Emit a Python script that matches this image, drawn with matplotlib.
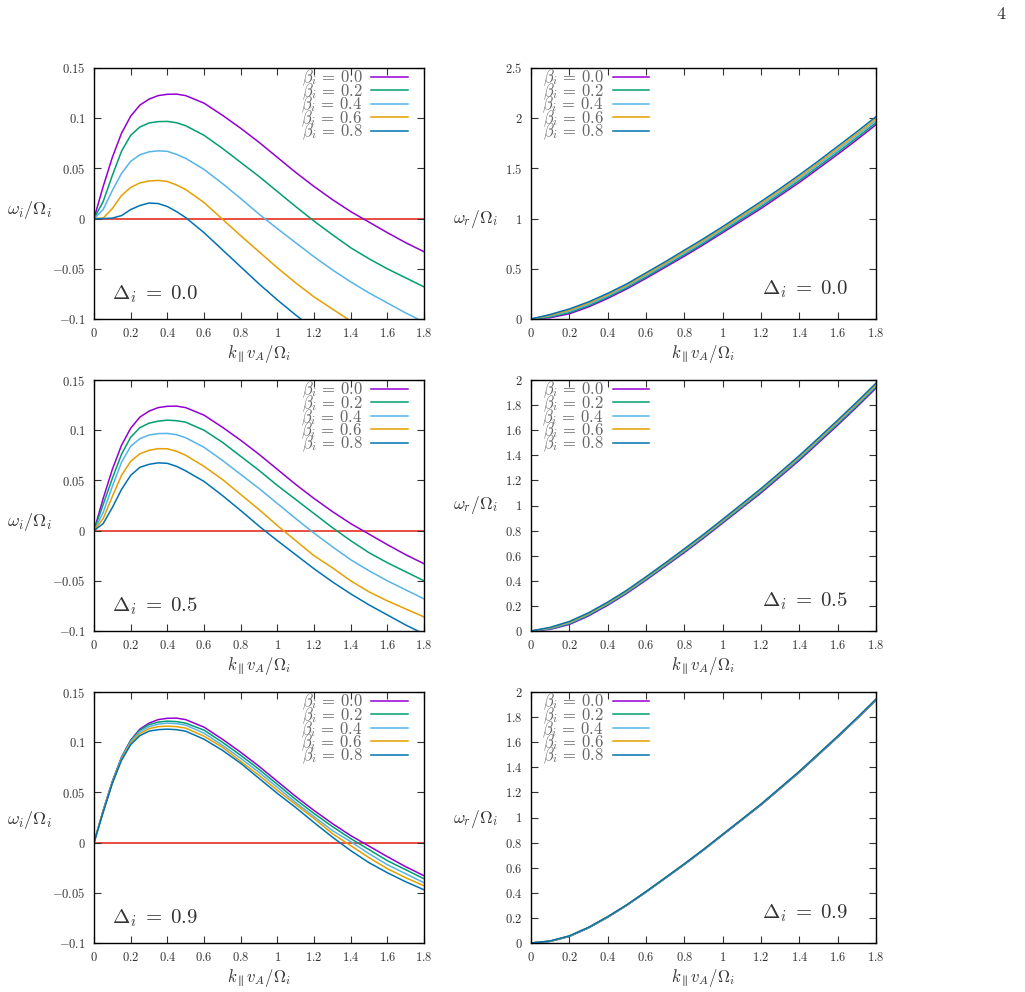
import numpy as np
import matplotlib
matplotlib.use("Agg")
import matplotlib.pyplot as plt
from matplotlib.ticker import FuncFormatter, MultipleLocator

plt.rcParams["mathtext.fontset"] = "cm"
plt.rcParams["font.family"] = "serif"

# ---- data ----------------------------------------------------------------
BETAS = ["0.0", "0.2", "0.4", "0.6", "0.8"]
COLORS = ["#9400d3", "#009e73", "#56b4e9", "#e69f00", "#0072b2"]
DELTAS = ["0.0", "0.5", "0.9"]

# growth rate, omega_i / Omega_i
xg = [0, 0.05, 0.1, 0.15, 0.2, 0.25, 0.3, 0.35, 0.4, 0.45, 0.5, 0.6, 0.7,
      0.8, 0.9, 1.0, 1.1, 1.2, 1.3, 1.4, 1.5, 1.6, 1.7, 1.8]

wi_d00_b00 = [0, 0.032, 0.061, 0.085, 0.102, 0.113, 0.119, 0.1225, 0.1238, 0.124, 0.1225,
              0.115, 0.103, 0.090, 0.076, 0.061, 0.046, 0.032, 0.019, 0.007, -0.0035,
              -0.014, -0.024, -0.033]
wi_d00_b02 = [0, 0.017, 0.043, 0.067, 0.083, 0.0912, 0.0952, 0.0966, 0.0968, 0.0955, 0.0925,
              0.083, 0.070, 0.056, 0.042, 0.027, 0.012, -0.0025, -0.016, -0.029, -0.040,
              -0.050, -0.059, -0.068]
wi_d00_b04 = [0, 0.009, 0.028, 0.045, 0.057, 0.0635, 0.0665, 0.0675, 0.067, 0.064, 0.060,
              0.049, 0.035, 0.020, 0.0045, -0.010, -0.024, -0.038, -0.051, -0.063, -0.074,
              -0.084, -0.094, -0.103]
wi_d00_b06 = [0, 0.0005, 0.010, 0.023, 0.031, 0.0355, 0.0375, 0.038, 0.037, 0.0335, 0.029,
              0.016, -0.0005, -0.017, -0.033, -0.049, -0.064, -0.078, -0.090, -0.102]
wi_d00_b08 = [0, 0.0, 0.0005, 0.003, 0.009, 0.013, 0.0155, 0.015, 0.012, 0.007, 0.001,
              -0.014, -0.031, -0.048, -0.065, -0.081, -0.096, -0.110]

wi_d05_b00 = [0, 0.032, 0.061, 0.085, 0.102, 0.113, 0.119, 0.1225, 0.1238, 0.124, 0.1225,
              0.115, 0.103, 0.090, 0.076, 0.061, 0.046, 0.032, 0.019, 0.007, -0.0035,
              -0.014, -0.024, -0.033]
wi_d05_b02 = [0, 0.026, 0.052, 0.076, 0.093, 0.1025, 0.107, 0.109, 0.110, 0.1095, 0.108,
              0.100, 0.088, 0.074, 0.060, 0.045, 0.031, 0.017, 0.003, -0.010, -0.022,
              -0.032, -0.041, -0.050]
wi_d05_b04 = [0, 0.018, 0.044, 0.068, 0.084, 0.0915, 0.0952, 0.0966, 0.0968, 0.0955, 0.0925,
              0.083, 0.070, 0.056, 0.042, 0.027, 0.012, -0.0025, -0.016, -0.029, -0.040,
              -0.050, -0.059, -0.068]
wi_d05_b06 = [0, 0.012, 0.034, 0.055, 0.069, 0.0765, 0.080, 0.0816, 0.0815, 0.079, 0.075,
              0.064, 0.051, 0.036, 0.021, 0.005, -0.010, -0.025, -0.037, -0.050, -0.061,
              -0.070, -0.078, -0.086]
wi_d05_b08 = [0, 0.007, 0.023, 0.041, 0.055, 0.063, 0.066, 0.0675, 0.067, 0.064, 0.0595,
              0.049, 0.035, 0.020, 0.0045, -0.010, -0.024, -0.038, -0.051, -0.063, -0.074,
              -0.084, -0.094, -0.103]

wi_d09_b00 = [0, 0.032, 0.061, 0.085, 0.102, 0.113, 0.119, 0.1225, 0.1238, 0.124, 0.1225,
              0.115, 0.103, 0.090, 0.076, 0.061, 0.046, 0.032, 0.019, 0.007, -0.0035,
              -0.014, -0.024, -0.033]
wi_d09_b02 = [0, 0.0318, 0.0605, 0.0845, 0.1015, 0.112, 0.1175, 0.120, 0.121, 0.1205, 0.119,
              0.112, 0.100, 0.087, 0.073, 0.058, 0.043, 0.029, 0.016, 0.004, -0.007,
              -0.018, -0.027, -0.036]
wi_d09_b04 = [0, 0.0315, 0.060, 0.084, 0.1005, 0.1105, 0.1155, 0.118, 0.119, 0.1185, 0.117,
              0.109, 0.097, 0.084, 0.070, 0.055, 0.040, 0.026, 0.012, 0.001, -0.011,
              -0.022, -0.031, -0.040]
wi_d09_b06 = [0, 0.031, 0.0595, 0.083, 0.099, 0.1085, 0.1135, 0.1155, 0.116, 0.1155, 0.114,
              0.106, 0.095, 0.081, 0.067, 0.052, 0.038, 0.024, 0.009, -0.003, -0.015,
              -0.026, -0.035, -0.043]
wi_d09_b08 = [0, 0.030, 0.059, 0.082, 0.0975, 0.1065, 0.111, 0.1125, 0.113, 0.1125, 0.111,
              0.103, 0.092, 0.079, 0.064, 0.049, 0.035, 0.020, 0.0055, -0.008, -0.020,
              -0.030, -0.039, -0.047]

# real frequency, omega_r / Omega_i
xr = [0, 0.1, 0.2, 0.3, 0.4, 0.5, 0.6, 0.7, 0.8, 0.9, 1.0, 1.1, 1.2, 1.3, 1.4,
      1.5, 1.6, 1.7, 1.8]

wr_d00_b00 = [0, 0.013, 0.052, 0.120, 0.205, 0.300, 0.405, 0.515, 0.625, 0.740, 0.860,
              0.980, 1.100, 1.230, 1.360, 1.500, 1.640, 1.785, 1.935]
wr_d00_b02 = [0, 0.021, 0.064, 0.133, 0.218, 0.313, 0.419, 0.529, 0.640, 0.755, 0.875,
              0.996, 1.118, 1.248, 1.379, 1.519, 1.660, 1.805, 1.955]
wr_d00_b04 = [0, 0.029, 0.076, 0.145, 0.230, 0.325, 0.432, 0.542, 0.655, 0.770, 0.890,
              1.012, 1.135, 1.265, 1.398, 1.538, 1.680, 1.825, 1.975]
wr_d00_b06 = [0, 0.037, 0.088, 0.158, 0.243, 0.338, 0.446, 0.556, 0.670, 0.785, 0.905,
              1.028, 1.152, 1.282, 1.416, 1.556, 1.700, 1.845, 1.995]
wr_d00_b08 = [0, 0.045, 0.100, 0.170, 0.255, 0.350, 0.460, 0.570, 0.685, 0.800, 0.920,
              1.045, 1.170, 1.300, 1.435, 1.575, 1.720, 1.865, 2.015]

wr_d05_b00 = [0, 0.013, 0.052, 0.120, 0.205, 0.300, 0.405, 0.515, 0.625, 0.740, 0.860,
              0.980, 1.100, 1.230, 1.360, 1.500, 1.640, 1.785, 1.935]
wr_d05_b02 = [0, 0.017, 0.058, 0.127, 0.212, 0.307, 0.412, 0.522, 0.633, 0.748, 0.868,
              0.988, 1.109, 1.239, 1.370, 1.510, 1.650, 1.795, 1.945]
wr_d05_b04 = [0, 0.021, 0.064, 0.133, 0.218, 0.313, 0.419, 0.529, 0.640, 0.755, 0.875,
              0.996, 1.118, 1.248, 1.379, 1.519, 1.660, 1.805, 1.955]
wr_d05_b06 = [0, 0.025, 0.070, 0.139, 0.224, 0.319, 0.426, 0.536, 0.648, 0.763, 0.883,
              1.004, 1.127, 1.257, 1.389, 1.529, 1.670, 1.815, 1.965]
wr_d05_b08 = [0, 0.029, 0.076, 0.145, 0.230, 0.325, 0.432, 0.542, 0.655, 0.770, 0.890,
              1.012, 1.135, 1.265, 1.398, 1.538, 1.680, 1.825, 1.975]

wr_d09_b00 = [0, 0.013, 0.052, 0.120, 0.205, 0.300, 0.405, 0.515, 0.625, 0.740, 0.860,
              0.980, 1.100, 1.230, 1.360, 1.500, 1.640, 1.785, 1.935]
wr_d09_b02 = [0, 0.014, 0.053, 0.121, 0.206, 0.301, 0.406, 0.516, 0.627, 0.742, 0.862,
              0.982, 1.102, 1.232, 1.362, 1.502, 1.642, 1.787, 1.937]
wr_d09_b04 = [0, 0.014, 0.054, 0.122, 0.207, 0.302, 0.407, 0.517, 0.628, 0.743, 0.863,
              0.983, 1.104, 1.234, 1.364, 1.504, 1.644, 1.789, 1.939]
wr_d09_b06 = [0, 0.015, 0.056, 0.124, 0.209, 0.304, 0.409, 0.519, 0.630, 0.745, 0.865,
              0.985, 1.105, 1.235, 1.366, 1.506, 1.646, 1.791, 1.941]
wr_d09_b08 = [0, 0.016, 0.057, 0.125, 0.210, 0.305, 0.410, 0.520, 0.631, 0.746, 0.866,
              0.986, 1.107, 1.237, 1.368, 1.508, 1.648, 1.793, 1.943]

WI = [[wi_d00_b00, wi_d00_b02, wi_d00_b04, wi_d00_b06, wi_d00_b08],
      [wi_d05_b00, wi_d05_b02, wi_d05_b04, wi_d05_b06, wi_d05_b08],
      [wi_d09_b00, wi_d09_b02, wi_d09_b04, wi_d09_b06, wi_d09_b08]]
WR = [[wr_d00_b00, wr_d00_b02, wr_d00_b04, wr_d00_b06, wr_d00_b08],
      [wr_d05_b00, wr_d05_b02, wr_d05_b04, wr_d05_b06, wr_d05_b08],
      [wr_d09_b00, wr_d09_b02, wr_d09_b04, wr_d09_b06, wr_d09_b08]]
WR_YMAX = [2.5, 2.0, 2.0]
WR_YSTEP = [0.5, 0.2, 0.2]

# ---- figure ----------------------------------------------------------------
W, H = 1025, 992
fig = plt.figure(figsize=(W / 100, H / 100), dpi=100)

fmt = FuncFormatter(lambda v, p: f"${round(v, 6):g}$")
rows_top = [68, 380, 692]
AXH = 251
TXT = "#333333"
# where the rotated-off y labels sit (axes fraction), per row
YLAB_L = [0.434, 0.434, 0.49]
YLAB_R = [0.40, 0.50, 0.495]


def style(ax):
    ax.tick_params(direction="in", top=True, right=True, length=5, width=0.8,
                   labelsize=9, colors=TXT, pad=6)
    ax.xaxis.set_major_formatter(fmt)
    ax.yaxis.set_major_formatter(fmt)
    ax.xaxis.set_major_locator(MultipleLocator(0.2))
    ax.set_xlim(0, 1.8)
    for s in ax.spines.values():
        s.set_linewidth(1.0)
    ax.set_xlabel(r"$k_\parallel v_A/\Omega_i$", fontsize=12, labelpad=2, color=TXT)


legend_kw = dict(frameon=False, markerfirst=False, fontsize=12, labelspacing=-0.42,
                 handlelength=2.2, handletextpad=0.55, borderpad=0.0,
                 borderaxespad=0.0, labelcolor="#666666")

for r in range(3):
    bottom = 1 - (rows_top[r] + AXH) / H
    # left: growth rate
    ax = fig.add_axes([94 / W, bottom, 330 / W, AXH / H])
    for k in range(5):
        y = WI[r][k]
        ax.plot(xg[:len(y)], y, color=COLORS[k], lw=1.1,
                label=rf"$\beta_i \,=\, {BETAS[k]}$")
    ax.axhline(0, color="#e51e10", lw=1.1, zorder=1)
    ax.set_ylim(-0.1, 0.15)
    ax.yaxis.set_major_locator(MultipleLocator(0.05))
    style(ax)
    ax.set_ylabel(r"$\omega_i/\Omega_i$", fontsize=13, rotation=0, color=TXT, va="center")
    ax.yaxis.set_label_coords(-0.195, YLAB_L[r])
    ax.legend(loc="upper right", bbox_to_anchor=(0.952, 1.0), **legend_kw)
    ax.text(0.055, 0.10, rf"$\Delta_i \;=\; {DELTAS[r]}$", transform=ax.transAxes,
            fontsize=15, color=TXT, va="center")

    # right: real frequency
    ax = fig.add_axes([531 / W, bottom, 345 / W, AXH / H])
    for k in range(5):
        ax.plot(xr, WR[r][k], color=COLORS[k], lw=1.1,
                label=rf"$\beta_i \,=\, {BETAS[k]}$")
    ax.set_ylim(0, WR_YMAX[r])
    ax.yaxis.set_major_locator(MultipleLocator(WR_YSTEP[r]))
    style(ax)
    ax.set_ylabel(r"$\omega_r/\Omega_i$", fontsize=12.5, rotation=0, color=TXT, va="center")
    ax.yaxis.set_label_coords(-0.16, YLAB_R[r])
    ax.legend(loc="upper left", bbox_to_anchor=(0.033, 1.0), **legend_kw)
    ax.text(0.67, 0.12, rf"$\Delta_i \;=\; {DELTAS[r]}$", transform=ax.transAxes,
            fontsize=15, color=TXT, va="center")

fig.text(0.9765, 0.986, r"$4$", fontsize=13, color=TXT, ha="center", va="center")

fig.savefig("out.png", dpi=100)
